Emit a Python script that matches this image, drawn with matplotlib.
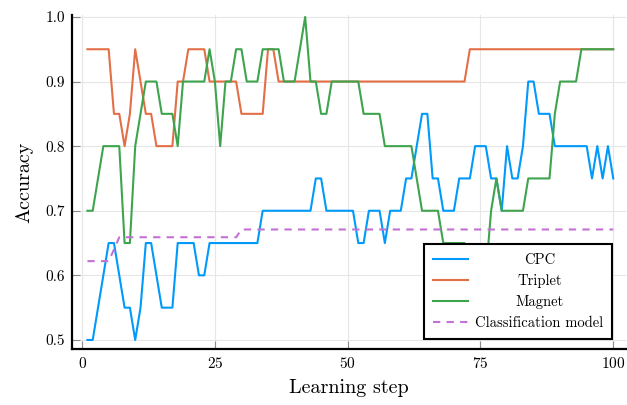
import numpy as np
import matplotlib
matplotlib.use('Agg')
import matplotlib.pyplot as plt

plt.rcParams['font.family'] = 'cmr10'
plt.rcParams['axes.formatter.use_mathtext'] = True

##data, one point per learning step
steps = np.arange(1, 101)

cpc = [0.5, 0.5, 0.55, 0.6, 0.65, 0.65, 0.6, 0.55, 0.55, 0.5,
       0.55, 0.65, 0.65, 0.6, 0.55, 0.55, 0.55, 0.65, 0.65, 0.65,
       0.65, 0.6, 0.6, 0.65, 0.65, 0.65, 0.65, 0.65, 0.65, 0.65,
       0.65, 0.65, 0.65, 0.7, 0.7, 0.7, 0.7, 0.7, 0.7, 0.7,
       0.7, 0.7, 0.7, 0.75, 0.75, 0.7, 0.7, 0.7, 0.7, 0.7,
       0.7, 0.65, 0.65, 0.7, 0.7, 0.7, 0.65, 0.7, 0.7, 0.7,
       0.75, 0.75, 0.8, 0.85, 0.85, 0.75, 0.75, 0.7, 0.7, 0.7,
       0.75, 0.75, 0.75, 0.8, 0.8, 0.8, 0.75, 0.75, 0.7, 0.8,
       0.75, 0.75, 0.8, 0.9, 0.9, 0.85, 0.85, 0.85, 0.8, 0.8,
       0.8, 0.8, 0.8, 0.8, 0.8, 0.75, 0.8, 0.75, 0.8, 0.75]

triplet = [0.95, 0.95, 0.95, 0.95, 0.95, 0.85, 0.85, 0.8, 0.85, 0.95,
           0.9, 0.85, 0.85, 0.8, 0.8, 0.8, 0.8, 0.9, 0.9, 0.95,
           0.95, 0.95, 0.95, 0.9, 0.9, 0.9, 0.9, 0.9, 0.9, 0.85,
           0.85, 0.85, 0.85, 0.85, 0.95, 0.95, 0.9, 0.9, 0.9, 0.9,
           0.9, 0.9, 0.9, 0.9, 0.9, 0.9, 0.9, 0.9, 0.9, 0.9,
           0.9, 0.9, 0.9, 0.9, 0.9, 0.9, 0.9, 0.9, 0.9, 0.9,
           0.9, 0.9, 0.9, 0.9, 0.9, 0.9, 0.9, 0.9, 0.9, 0.9,
           0.9, 0.9, 0.95, 0.95, 0.95, 0.95, 0.95, 0.95, 0.95, 0.95,
           0.95, 0.95, 0.95, 0.95, 0.95, 0.95, 0.95, 0.95, 0.95, 0.95,
           0.95, 0.95, 0.95, 0.95, 0.95, 0.95, 0.95, 0.95, 0.95, 0.95]

magnet = [0.7, 0.7, 0.75, 0.8, 0.8, 0.8, 0.8, 0.65, 0.65, 0.8,
          0.85, 0.9, 0.9, 0.9, 0.85, 0.85, 0.85, 0.8, 0.9, 0.9,
          0.9, 0.9, 0.9, 0.95, 0.9, 0.8, 0.9, 0.9, 0.95, 0.95,
          0.9, 0.9, 0.9, 0.95, 0.95, 0.95, 0.95, 0.9, 0.9, 0.9,
          0.95, 1.0, 0.9, 0.9, 0.85, 0.85, 0.9, 0.9, 0.9, 0.9,
          0.9, 0.9, 0.85, 0.85, 0.85, 0.85, 0.8, 0.8, 0.8, 0.8,
          0.8, 0.8, 0.75, 0.7, 0.7, 0.7, 0.7, 0.65, 0.65, 0.65,
          0.65, 0.65, 0.6, 0.6, 0.6, 0.6, 0.7, 0.75, 0.7, 0.7,
          0.7, 0.7, 0.7, 0.75, 0.75, 0.75, 0.75, 0.75, 0.85, 0.9,
          0.9, 0.9, 0.9, 0.95, 0.95, 0.95, 0.95, 0.95, 0.95, 0.95]

classif = [0.622] * 5 + [0.64] + [0.659] * 23 + [0.671] * 71

fig = plt.figure(figsize=(6.27, 4.05), dpi=100)
ax = fig.add_axes([72 / 627, 1 - 349 / 405, 554 / 627, 334 / 405])

ax.plot(steps, cpc, color='#009afa', lw=1.5, label='CPC')
ax.plot(steps, triplet, color='#e36f47', lw=1.5, label='Triplet')
ax.plot(steps, magnet, color='#3ea44e', lw=1.5, label='Magnet')
ax.plot(steps, classif, color='#c371d2', lw=1.5, ls=(0, (3.5, 3)), label='Classification model')

ax.set_xlim(-1.9, 102.4)
ax.set_ylim(0.486, 1.003)
ax.set_xticks([0, 25, 50, 75, 100])
ax.set_yticks([0.5, 0.6, 0.7, 0.8, 0.9, 1.0])
ax.set_yticklabels(['0.5', '0.6', '0.7', '0.8', '0.9', '1.0'])
ax.grid(True, color='#e6e6e6', lw=0.8)
ax.set_axisbelow(True)
ax.tick_params(direction='in', length=6, width=0.8, color='#8a8a8a', labelsize=11)
ax.tick_params(axis='x', pad=5)
ax.tick_params(axis='y', pad=5)
for s in ['top', 'right']:
    ax.spines[s].set_visible(False)
for s in ['left', 'bottom']:
    ax.spines[s].set_linewidth(1.6)

ax.set_xlabel('Learning step', fontsize=14.5, labelpad=6)
ax.set_ylabel('Accuracy', fontsize=14.5, labelpad=9)

leg = ax.legend(loc='lower right', bbox_to_anchor=(0.975, 0.03), borderaxespad=0,
                fancybox=False, framealpha=1, edgecolor='black', fontsize=10.5,
                handlelength=2.4, handletextpad=0.5, labelspacing=0.5, borderpad=0.6)
leg.get_frame().set_linewidth(1.5)

##center the legend texts like the original
fig.canvas.draw()
r = fig.canvas.get_renderer()
ws = [t.get_window_extent(r).width for t in leg.get_texts()]
for t, w in zip(leg.get_texts(), ws):
    t.set_x((max(ws) - w) / 2)

plt.savefig('out.png', dpi=100)
